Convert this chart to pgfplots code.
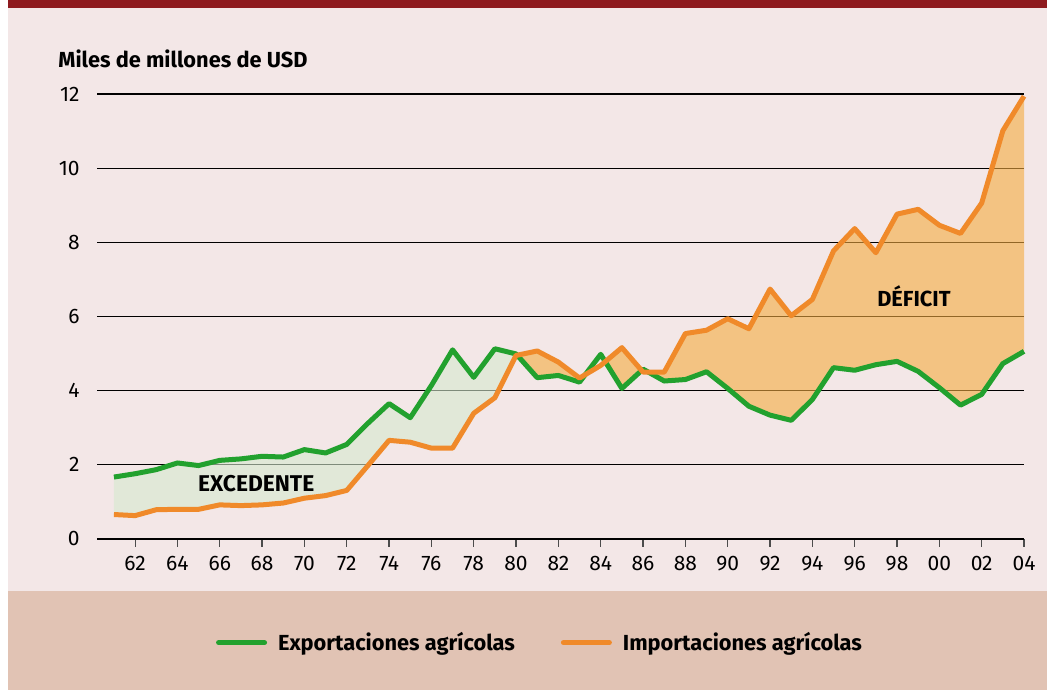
\documentclass[border=0pt]{standalone}
\usepackage{fontspec}
\setmainfont{Fira Sans}
\usepackage{pgfplots}
\usepackage{pgfplotstable}
\pgfplotsset{compat=1.18}
\usepgfplotslibrary{fillbetween}
\definecolor{bgpink}{RGB}{243,231,231}
\definecolor{topred}{RGB}{142,26,30}
\definecolor{band}{RGB}{225,195,180}
\definecolor{expgreen}{RGB}{34,161,46}
\definecolor{impor}{RGB}{240,138,42}
\definecolor{greenfill}{RGB}{213,233,206}
\definecolor{orangefill}{RGB}{243,171,64}
\pgfplotstableread{
year exp imp
1961 1.67 0.66
1962 1.76 0.63
1963 1.87 0.79
1964 2.05 0.80
1965 1.98 0.80
1966 2.12 0.92
1967 2.16 0.90
1968 2.23 0.92
1969 2.21 0.97
1970 2.41 1.10
1971 2.32 1.17
1972 2.55 1.31
1973 3.12 1.98
1974 3.65 2.66
1975 3.27 2.61
1976 4.14 2.45
1977 5.10 2.45
1978 4.36 3.39
1979 5.13 3.81
1980 4.99 4.95
1981 4.35 5.07
1982 4.41 4.77
1983 4.23 4.34
1984 4.98 4.68
1985 4.06 5.16
1986 4.58 4.50
1987 4.26 4.50
1988 4.30 5.54
1989 4.51 5.63
1990 4.06 5.94
1991 3.58 5.67
1992 3.34 6.74
1993 3.20 6.02
1994 3.76 6.46
1995 4.62 7.77
1996 4.55 8.37
1997 4.70 7.72
1998 4.79 8.76
1999 4.52 8.89
2000 4.08 8.46
2001 3.61 8.24
2002 3.90 9.06
2003 4.73 11.01
2004 5.06 11.94
}\datatable
\begin{document}
\begin{tikzpicture}
\begin{axis}[
  set layers,
  at={(48.5pt,75.5pt)}, anchor=south west,
  scale only axis, width=463.5pt, height=222.5pt,
  xmin=1960.2, xmax=2004, ymin=0, ymax=12,
  clip=false,
  axis x line*=bottom, axis y line*=left,
  x axis line style={draw=black, line width=0.6pt},
  y axis line style={draw=none},
  ytick={0,2,...,12},
  ymajorgrids, grid style={black, line width=0.55pt},
  xtick={1962,1964,...,2004},
  xticklabels={62,64,66,68,70,72,74,76,78,80,82,84,86,88,90,92,94,96,98,00,02,04},
  tick align=outside, major tick length=4pt,
  xtick style={draw=black!70, line width=0.6pt},
  ytick style={/pgfplots/major tick length=0pt},
  /pgf/number format/assume math mode=true,
  ticklabel style={font=\fontsize{10.5}{12}\selectfont, inner sep=0pt},
  xticklabel style={anchor=north, yshift=-4.5pt},
  yticklabel style={anchor=east, xshift=-4.5pt},
  legend style={at={(0.128,-0.233)}, anchor=west, draw=none, fill=none,
    inner sep=0pt, font=\bfseries\fontsize{10.9}{13}\selectfont,
    nodes={inner sep=0pt},
    /tikz/every odd column/.append style={column sep=5.5pt},
    /tikz/every even column/.append style={column sep=23pt}},
  legend columns=2,
  legend image code/.code={\draw[#1, line cap=round] (0pt,0pt) -- (23pt,0pt);},
]
\begin{pgfonlayer}{axis background}
\fill[white] (rel axis cs:-0.10464,-0.33933) rectangle (rel axis cs:1.02481,1.21124);
\fill[bgpink] (rel axis cs:-0.09601,-0.11685) rectangle (rel axis cs:1.02481,1.19326);
\fill[topred] (rel axis cs:-0.09601,1.19326) rectangle (rel axis cs:1.02481,1.21124);
\fill[band] (rel axis cs:-0.09601,-0.33933) rectangle (rel axis cs:1.02481,-0.11685);
\end{pgfonlayer}
\addplot[name path=exp, expgreen, line width=2.5pt, line join=round] table[x=year, y=exp] {\datatable};
\addlegendentry{Exportaciones agrícolas}
\addplot[name path=imp, impor, line width=2.5pt, line join=round] table[x=year, y=imp] {\datatable};
\addlegendentry{Importaciones agrícolas}
\addplot[orangefill, fill opacity=0.6, forget plot] fill between[of=exp and imp, split,
  every segment no 0/.style={fill=greenfill},
  every segment no 2/.style={fill opacity=0},
  every segment no 4/.style={fill opacity=0}];
\node[anchor=base west, inner sep=0pt, font=\bfseries\fontsize{10.9}{13}\selectfont] at (rel axis cs:-0.04207,1.05843) {Miles de millones de USD};
\node[anchor=base, font=\bfseries\fontsize{11.4}{13}\selectfont, inner sep=0pt] at (axis cs:1967.72,1.27) {EXCEDENTE};
\node[anchor=base, font=\bfseries\fontsize{10.9}{13}\selectfont, inner sep=0pt] at (axis cs:1998.8,6.27) {DÉFICIT};
\end{axis}
\end{tikzpicture}
\end{document}
